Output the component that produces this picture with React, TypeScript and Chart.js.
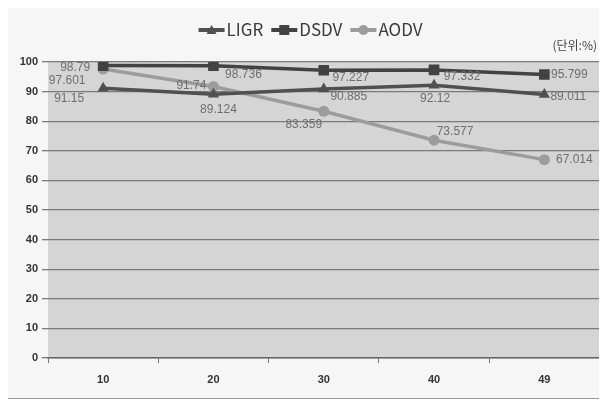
import React, { useEffect, useRef } from "react";
import { Chart, registerables } from "chart.js";

Chart.register(...registerables);

const categories = ["10", "20", "30", "40", "49"];
const ligr = [91.15, 89.124, 90.885, 92.12, 89.011];
const dsdv = [98.79, 98.736, 97.227, 97.332, 95.799];
const aodv = [97.601, 91.74, 83.359, 73.577, 67.014];
const seriesNames = ["LIGR", "DSDV", "AODV"];
const unitLabel = "(단위:%)";

// label placement offsets (style, not data): [dx, dy] of label centre relative to point
const ligrLabelOffsets = [[-34, 10], [5, 15], [25, 8], [1, 13], [24, 2]];
const dsdvLabelOffsets = [[-28, 2], [30, 9], [27, 7], [28, 7], [25, 0]];
const aodvLabelOffsets = [[-36, 12], [-22, -1], [-20, 13], [21, -9], [30, 0]];

const colLIGR = "#505050";
const colDSDV = "#424242";
const colAODV = "#9c9c9c";

const bgPlugin = {
  id: "plotBg",
  beforeDraw(chart: any) {
    const { ctx, chartArea: a } = chart;
    ctx.save();
    ctx.fillStyle = "#f6f6f6";
    ctx.fillRect(0, 0, chart.width, chart.height);
    ctx.fillStyle = "#d5d5d5";
    ctx.fillRect(a.left, a.top, a.right - a.left, a.bottom - a.top);
    ctx.restore();
  },
};

function drawMarker(ctx: any, style: string, x: number, y: number, r: number, color: string) {
  ctx.fillStyle = color;
  ctx.beginPath();
  if (style === "triangle") {
    ctx.moveTo(x, y - r);
    ctx.lineTo(x + r, y + r * 0.8);
    ctx.lineTo(x - r, y + r * 0.8);
    ctx.closePath();
  } else if (style === "rect") {
    ctx.rect(x - r, y - r, 2 * r, 2 * r);
  } else {
    ctx.arc(x, y, r, 0, Math.PI * 2);
  }
  ctx.fill();
}

const overlayPlugin = {
  id: "overlay",
  afterDatasetsDraw(chart: any) {
    const { ctx } = chart;
    ctx.save();
    // data labels
    ctx.font = "12px 'Liberation Sans', sans-serif";
    ctx.fillStyle = "#6e6e6e";
    ctx.textAlign = "center";
    ctx.textBaseline = "middle";
    chart.data.datasets.forEach((ds: any, di: number) => {
      const meta = chart.getDatasetMeta(di);
      meta.data.forEach((pt: any, i: number) => {
        const off = ds.labelOffsets[i];
        ctx.fillText(String(ds.data[i]), pt.x + off[0], pt.y + off[1]);
      });
    });
    // legend
    const items = chart.data.datasets;
    ctx.font = "17px 'Noto Sans CJK KR', 'Open Sans', sans-serif";
    const sample = 28;
    const gap = 8;
    const widths = items.map((d: any) => sample + ctx.measureText(d.label).width);
    const total = widths.reduce((s: number, w: number) => s + w, 0) + gap * (items.length - 1);
    let x = chart.width / 2 - total / 2 + 4;
    const y = 22;
    items.forEach((d: any, i: number) => {
      ctx.strokeStyle = d.borderColor;
      ctx.lineWidth = 4;
      ctx.beginPath();
      ctx.moveTo(x, y);
      ctx.lineTo(x + sample - 2, y);
      ctx.stroke();
      drawMarker(ctx, d.pointStyle, x + sample / 2 - 1, y, 5, d.borderColor);
      ctx.fillStyle = "#3a3a3a";
      ctx.textAlign = "left";
      ctx.fillText(d.label, x + sample, y);
      x += widths[i] + gap;
    });
    // unit label
    ctx.font = "12px 'Noto Sans CJK KR', sans-serif";
    ctx.fillStyle = "#444";
    ctx.textAlign = "right";
    ctx.fillText(unitLabel, chart.width - 10, 37);
    ctx.restore();
  },
};

export default function App() {
  const ref = useRef<HTMLCanvasElement>(null);
  useEffect(() => {
    if (!ref.current) return;
    const chart = new Chart(ref.current, {
      type: "line",
      data: {
        labels: categories,
        datasets: [
          {
            label: seriesNames[0],
            data: ligr,
            borderColor: colLIGR,
            backgroundColor: colLIGR,
            pointStyle: "triangle",
            pointRadius: 6.5,
            pointBorderWidth: 0,
            borderWidth: 3.5,
            labelOffsets: ligrLabelOffsets,
          } as any,
          {
            label: seriesNames[1],
            data: dsdv,
            borderColor: colDSDV,
            backgroundColor: colDSDV,
            pointStyle: "rect",
            pointRadius: 7.5,
            pointBorderWidth: 0,
            borderWidth: 3.5,
            labelOffsets: dsdvLabelOffsets,
          } as any,
          {
            label: seriesNames[2],
            data: aodv,
            borderColor: colAODV,
            backgroundColor: colAODV,
            pointStyle: "circle",
            pointRadius: 5.5,
            pointBorderWidth: 0,
            borderWidth: 3.5,
            labelOffsets: aodvLabelOffsets,
          } as any,
        ],
      },
      options: {
        animation: false,
        responsive: true,
        maintainAspectRatio: false,
        layout: { padding: { top: 54, right: 6.5, left: 0, bottom: 0 } },
        plugins: { legend: { display: false }, tooltip: { enabled: false } },
        scales: {
          x: {
            offset: true,
            grid: {
              display: true,
              drawOnChartArea: false,
              offset: true,
              color: "#777",
              tickLength: 5,
            },
            border: { color: "#666", width: 1.5 },
            ticks: {
              color: "#333",
              font: { size: 11, weight: "bold", family: "'Liberation Sans', sans-serif" },
              padding: 10,
            },
            afterFit: (s: any) => {
              s.height = 40;
              s.paddingLeft = 0;
              s.paddingRight = 0;
            },
          },
          y: {
            min: 0,
            max: 100,
            ticks: {
              stepSize: 10,
              color: "#333",
              font: { size: 11, weight: "bold", family: "'Liberation Sans', sans-serif" },
              padding: 4,
            },
            grid: { color: "#7a7a7a", lineWidth: 1.3, tickLength: 6 },
            border: { display: false },
            afterFit: (s: any) => {
              s.width = 42;
              s.paddingTop = 0;
              s.paddingBottom = 0;
            },
          },
        },
      },
      plugins: [bgPlugin, overlayPlugin],
    });
    return () => chart.destroy();
  }, []);
  return (
    <div
      style={{
        position: "relative",
        width: 602,
        height: 392,
        border: "1px solid #9a9a9a",
        borderRight: "none",
        boxSizing: "border-box",
        marginTop: -1,
        marginLeft: -3,
      }}
    >
      <canvas ref={ref} />
    </div>
  );
}
